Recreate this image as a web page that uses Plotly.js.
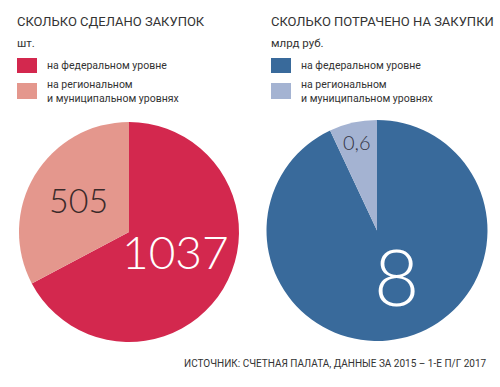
<!DOCTYPE html>
<html><head><meta charset="utf-8">
<script src="https://cdn.plot.ly/plotly-3.0.1.min.js"></script>
<style>html,body{margin:0;padding:0;background:#fff}#c{width:500px;height:387px}</style>
</head><body><div id="c"></div>
<script>
const categories = ["на федеральном уровне", "на региональном<br>и муниципальном уровнях"];
const countValues = [1037, 505];
const countLabels = ["1037", "505"];
const moneyValues = [8, 0.6];
const moneyLabels = ["8", "0,6"];
const titles = ["СКОЛЬКО СДЕЛАНО ЗАКУПОК", "СКОЛЬКО ПОТРАЧЕНО НА ЗАКУПКИ"];
const units = ["шт.", "млрд руб."];
const source = "ИСТОЧНИК: СЧЕТНАЯ ПАЛАТА, ДАННЫЕ ЗА 2015 – 1-Е П/Г 2017";
const colorsLeft = ["#D3284E", "#E4978D"];
const colorsRight = ["#396A9B", "#A4B3D2"];

const FONT = "Roboto, Open Sans, sans-serif";
const NUMFONT = "Lato, Roboto, sans-serif";
const W = 500, H = 387;
const px = x => x / W, py = y => 1 - y / H;

const pieBase = {type: "pie", sort: false, direction: "clockwise", rotation: 0,
  textinfo: "none", hoverinfo: "none", showlegend: false};
const data = [
  Object.assign({}, pieBase, {values: countValues, labels: categories,
    marker: {colors: colorsLeft, line: {width: 0}},
    domain: {x: [px(19), px(239)], y: [py(342), py(122)]}}),
  Object.assign({}, pieBase, {values: moneyValues, labels: categories,
    marker: {colors: colorsRight, line: {width: 0}},
    domain: {x: [px(266), px(488)], y: [py(341), py(120)]}})
];

const annotations = [];
const shapes = [];
function txt(x, y, text, size, color, extra) {
  annotations.push(Object.assign({xref: "paper", yref: "paper", x: px(x), y: py(y),
    text: text, showarrow: false, xanchor: "left", yanchor: "middle",
    font: {family: FONT, size: size, color: color}}, extra || {}));
}
const cols = [{x: 17, colors: colorsLeft}, {x: 271, colors: colorsRight}];
cols.forEach((c, i) => {
  txt(c.x - 2, 22, titles[i], 13, "#333333");
  txt(c.x - 2, 43, units[i], 11.5, "#333333");
  shapes.push({type: "rect", xref: "paper", yref: "paper", x0: px(c.x), x1: px(c.x + 20),
    y0: py(73), y1: py(58), fillcolor: c.colors[0], line: {width: 0}});
  shapes.push({type: "rect", xref: "paper", yref: "paper", x0: px(c.x), x1: px(c.x + 20),
    y0: py(99), y1: py(83), fillcolor: c.colors[1], line: {width: 0}});
  txt(c.x + 28, 65, categories[0], 10.5, "#333333");
  txt(c.x + 28, 91, categories[1], 10.5, "#333333", {align: "left"});
});
// pie value labels
const thin = (x, y, text, size, color) => annotations.push({xref: "paper", yref: "paper",
  x: px(x), y: py(y), text: text, showarrow: false, xanchor: "center", yanchor: "middle",
  font: {family: NUMFONT, size: size, color: color, weight: 300}});
thin(78, 200, countLabels[1], 34, "#3a2a2a");
thin(175, 251, countLabels[0], 46, "#ffffff");
thin(396, 276, moneyLabels[0], 78, "#ffffff");
thin(357, 142, moneyLabels[1], 20, "#333344");
annotations.push({xref: "paper", yref: "paper", x: px(489), y: py(363), text: source,
  showarrow: false, xanchor: "right", yanchor: "middle",
  font: {family: FONT, size: 10, color: "#333333"}});

Plotly.newPlot("c", data, {width: W, height: H, margin: {l: 0, r: 0, t: 0, b: 0},
  paper_bgcolor: "#ffffff", annotations: annotations, shapes: shapes},
  {staticPlot: true});
</script></body></html>
